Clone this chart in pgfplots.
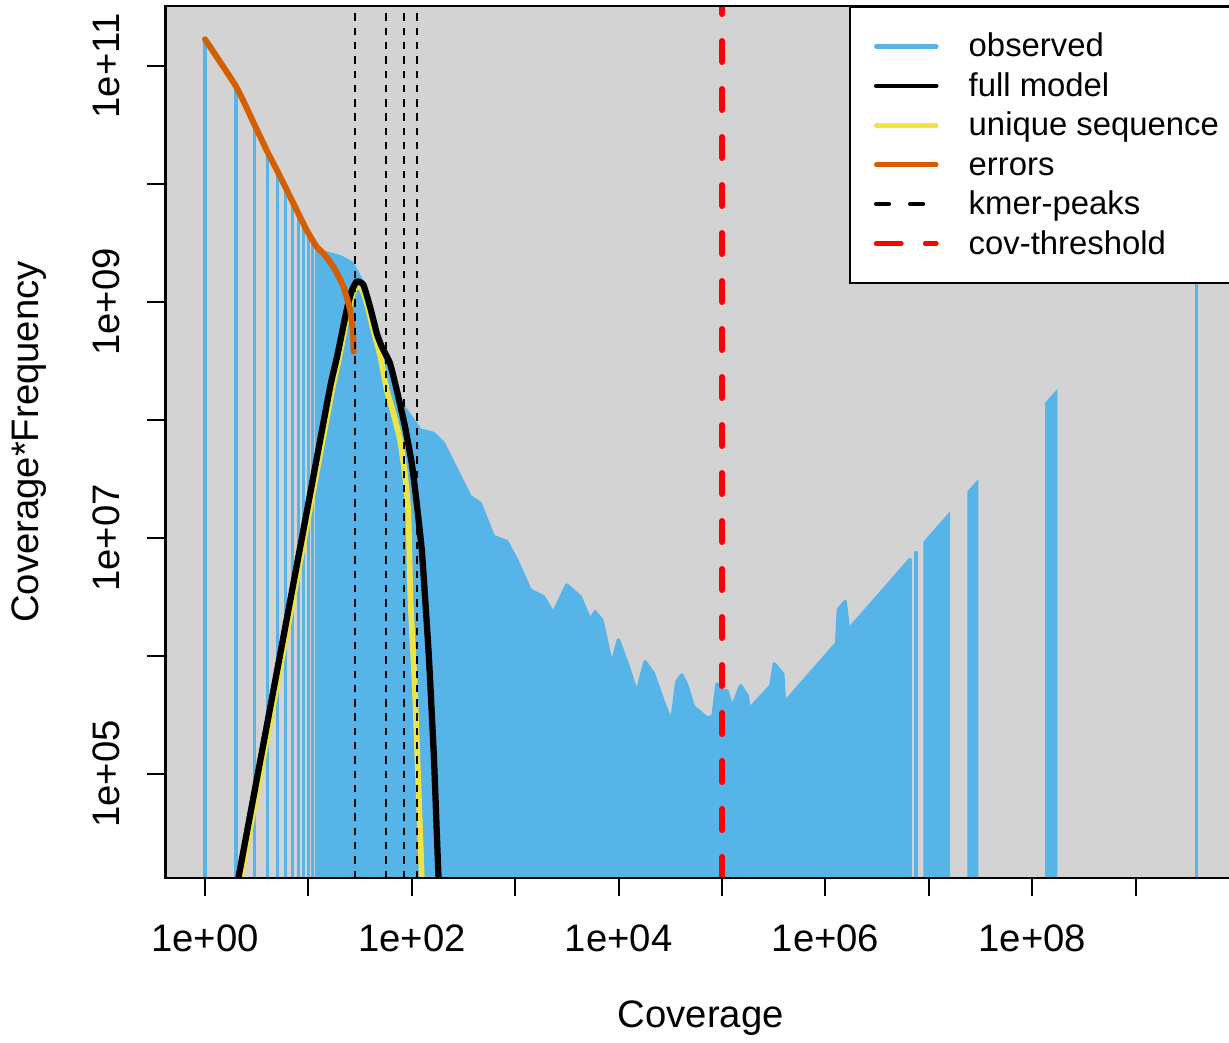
\documentclass[border=0pt]{standalone}
\usepackage{fontspec}
\setmainfont{Liberation Sans}
\usepackage{pgfplots}
\pgfplotsset{compat=1.18}
\definecolor{obs}{HTML}{56B4E9}
\definecolor{errc}{HTML}{D55E00}
\definecolor{uniq}{HTML}{F0E442}
\definecolor{bggray}{HTML}{D3D3D3}
\begin{document}
\begin{tikzpicture}
\useasboundingbox (0,0) rectangle (430.15pt,364.7pt);
\begin{axis}[
  at={(57.9pt,57.4pt)}, anchor=south west,
  scale only axis, width=374.7pt, height=305.2pt,
  xmode=log, ymode=log,
  xmin=0.414, xmax=9.333e9, ymin=1.315e4, ymax=3.221e11,
  axis background/.style={fill=bggray},
  axis line style={line width=0.8pt},
  axis on top,
  tick align=outside, major tick length=6.3pt,
  every tick/.style={black, line width=0.7pt},
  xtick pos=left, ytick pos=left,
  xminorticks=false, yminorticks=false,
  xtick={1,10,100,1000,1e4,1e5,1e6,1e7,1e8,1e9},
  xticklabels={1e+00,,1e+02,,1e+04,,1e+06,,1e+08,},
  ytick={1e5,1e6,1e7,1e8,1e9,1e10,1e11},
  yticklabels={1e+05,,1e+07,,1e+09,,1e+11},
  tick label style={font=\fontsize{13.4pt}{16pt}\selectfont},
  xticklabel style={anchor=base},
  xticklabel shift=19.6pt,
  yticklabel style={rotate=90, anchor=base},
  yticklabel shift=9.8pt,
  xlabel={Coverage}, ylabel={Coverage*Frequency},
  label style={font=\fontsize{13.4pt}{16pt}\selectfont},
  xlabel style={at={(axis description cs:0.5,-0.1709)}, anchor=base},
  ylabel style={at={(axis description cs:-0.119,0.5)}, anchor=base},
  legend style={at={(axis description cs:1,1)}, anchor=north east,
    draw=black, line width=0.7pt, fill=white,
    font=\fontsize{11.5pt}{13.8pt}\selectfont,
    inner xsep=5.6pt, inner ysep=6.9pt, row sep=0pt,
    nodes={inner sep=0pt, text height=10.6pt, text depth=3.2pt},
    /tikz/every odd column/.append style={column sep=10.5pt}},
  legend cell align=left,
  legend image code/.code={\path (-2.6pt,0pt); \draw[#1] (0pt,0pt) -- (21pt,0pt);},
]
% observed: single coverages as vertical lines
\addplot[obs, line width=1.2pt, line cap=round, unbounded coords=jump, forget plot] coordinates {
 (1,1e3) (1,1.644e11) (1,nan)
 (2,1e3) (2,6.53e10) (2,nan)
 (3,1e3) (3,3.09e10) (3,nan)
 (4,1e3) (4,1.837e10) (4,nan)
 (5,1e3) (5,1.259e10) (5,nan)
 (6,1e3) (6,9.12e9) (6,nan)
 (7,1e3) (7,6.97e9) (7,nan)
 (8,1e3) (8,5.52e9) (8,nan)
 (9,1e3) (9,4.50e9) (9,nan)
 (10,1e3) (10,3.77e9) (10,nan)
 (11,1e3) (11,3.28e9) (11,nan)
 (7.50e6,1e3) (7.50e6,7.50e6) (7.50e6,nan)
 (3.88e9,1e3) (3.88e9,3.88e9)
};
% observed: dense part
\addplot[fill=obs, draw=obs, line width=1.2pt, line join=round, forget plot] coordinates {
 (12,1e3) (12,2.76e9) (15,2.59e9) (20.2,2.42e9) (26.2,2.14e9) (29.3,1.81e9)
 (32.3,1.54e9) (36.6,1.15e9) (45.8,5.15e8) (51.2,3.77e8) (61.5,2.65e8)
 (71.5,1.69e8) (82.7,1.30e8) (120,8.23e7) (161.5,7.71e7) (202,6.35e7)
 (272,3.77e7) (366,2.24e7) (457,1.97e7) (614,1.03e7) (828,9.31e6)
 (1033,6.51e6) (1390,3.62e6) (1871,3.18e6) (2335,2.30e6) (3147,4.0e6)
 (4236,3.18e6) (5288,2.02e6) (5916,2.37e6) (6866,2.02e6) (8576,8.39e5)
 (9931,1.37e6) (12410,8.11e5) (14960,4.83e5) (17990,8.95e5) (21670,7.13e5)
 (28120,3.72e5) (32610,2.77e5) (36470,6.05e5) (40740,6.90e5) (45590,5.68e5)
 (52720,3.72e5) (63630,3.26e5) (71120,2.96e5) (81850,3.10e5) (89290,5.79e5)
 (99800,5.07e5) (111700,5.07e5) (125000,3.66e5) (151000,5.60e5) (175400,4.60e5)
 (182000,3.53e5) (296500,5.60e5) (319900,8.59e5) (386600,7.05e5) (400900,4.01e5)
 (1.283e6,1.283e6) (1.333e6,2.47e6) (1.548e6,2.90e6) (1.668e6,1.668e6)
 (6.58e6,6.58e6) (6.58e6,1e3)
};
\addplot[fill=obs, draw=obs, line width=1.2pt, forget plot] coordinates {
 (9.18e6,1e3) (9.18e6,9.18e6) (1.545e7,1.545e7) (1.545e7,1e3)};
\addplot[fill=obs, draw=obs, line width=1.2pt, forget plot] coordinates {
 (2.45e7,1e3) (2.45e7,2.45e7) (2.90e7,2.90e7) (2.90e7,1e3)};
\addplot[fill=obs, draw=obs, line width=1.2pt, forget plot] coordinates {
 (1.381e8,1e3) (1.381e8,1.381e8) (1.683e8,1.683e8) (1.683e8,1e3)};
% unique sequence
\addplot[uniq, line width=2.0pt, line join=round, smooth, tension=0.3, forget plot] coordinates {
 (1.85,5.6e3) (2.226,1.31e4) (2.887,4.46e4) (4.51,3.60e5) (7.04,2.90e6)
 (10.98,2.34e7) (17.15,1.89e8) (19.8,3.35e8) (24.2,8.30e8) (26.9,1.18e9)
 (29.3,1.38e9) (33.0,1.28e9) (36.6,9.81e8) (42.4,5.79e8) (49.2,3.56e8)
 (57.2,1.79e8) (66.2,1.15e8) (76.9,6.78e7) (85.9,3.42e7) (92.5,1.63e7)
 (97.1,2.98e6) (107.4,4.83e5) (124.7,1.31e4) (128.3,5.6e3)
};
% full model
\addplot[black, line width=2.2pt, line join=round, smooth, tension=0.3, forget plot] coordinates {
 (1.746,5.6e3) (2.10,1.31e4) (2.724,4.46e4) (4.253,3.60e5) (6.64,2.90e6)
 (10.36,2.34e7) (16.18,1.89e8) (18.79,3.35e8) (23.46,8.55e8) (26.2,1.24e9)
 (29.3,1.49e9) (33.96,1.40e9) (39.4,9.12e8) (45.8,5.43e8) (51.2,4.18e8)
 (61.5,3.02e8) (71.5,1.79e8) (85.9,8.77e7) (99.8,4.29e7) (111.5,1.97e7)
 (124.7,7.91e6) (134.8,2.98e6) (146.7,9.25e5) (163.9,1.31e5) (181.2,1.31e4)
 (191.6,5.6e3)
};
% errors
\addplot[errc, line width=2.1pt, line join=round, line cap=round, smooth, tension=0.3, forget plot] coordinates {
 (1,1.68e11) (2.0,6.68e10) (3.02,3.16e10) (4.0,1.88e10) (4.93,1.32e10)
 (6.17,8.9e9) (7.7,6.0e9) (9.6,4.07e9) (12.0,2.94e9) (13.9,2.59e9)
 (17.4,1.99e9) (21.8,1.35e9) (25.3,8.55e8) (27.0,5.5e8) (27.3,3.8e8)
};
% kmer peaks
\addplot[black, line width=0.75pt, dash pattern=on 2.6pt off 2.4pt, forget plot] coordinates {(28,1.315e4) (28,3.221e11)};
\addplot[black, line width=0.75pt, dash pattern=on 2.6pt off 2.4pt, forget plot] coordinates {(56,1.315e4) (56,3.221e11)};
\addplot[black, line width=0.75pt, dash pattern=on 2.6pt off 2.4pt, forget plot] coordinates {(84,1.315e4) (84,3.221e11)};
\addplot[black, line width=0.75pt, dash pattern=on 2.6pt off 2.4pt, forget plot] coordinates {(112,1.315e4) (112,3.221e11)};
% coverage threshold
\addplot[red, line width=2.1pt, line cap=round, dash pattern=on 7.35pt off 9.45pt, forget plot] coordinates {(1e5,1.315e4) (1e5,3.221e11)};

\addlegendimage{obs, line width=1.6pt, line cap=round}
\addlegendentry{observed}
\addlegendimage{black, line width=1.6pt, line cap=round}
\addlegendentry{full model}
\addlegendimage{uniq, line width=1.6pt, line cap=round}
\addlegendentry{unique sequence}
\addlegendimage{errc, line width=1.6pt, line cap=round}
\addlegendentry{errors}
\addlegendimage{black, line width=1.6pt, line cap=round, dash pattern=on 4.4pt off 7.5pt}
\addlegendentry{kmer-peaks}
\addlegendimage{red, line width=1.7pt, line cap=round, dash pattern=on 8.75pt off 8.4pt}
\addlegendentry{cov-threshold}
\end{axis}
\end{tikzpicture}
\end{document}
